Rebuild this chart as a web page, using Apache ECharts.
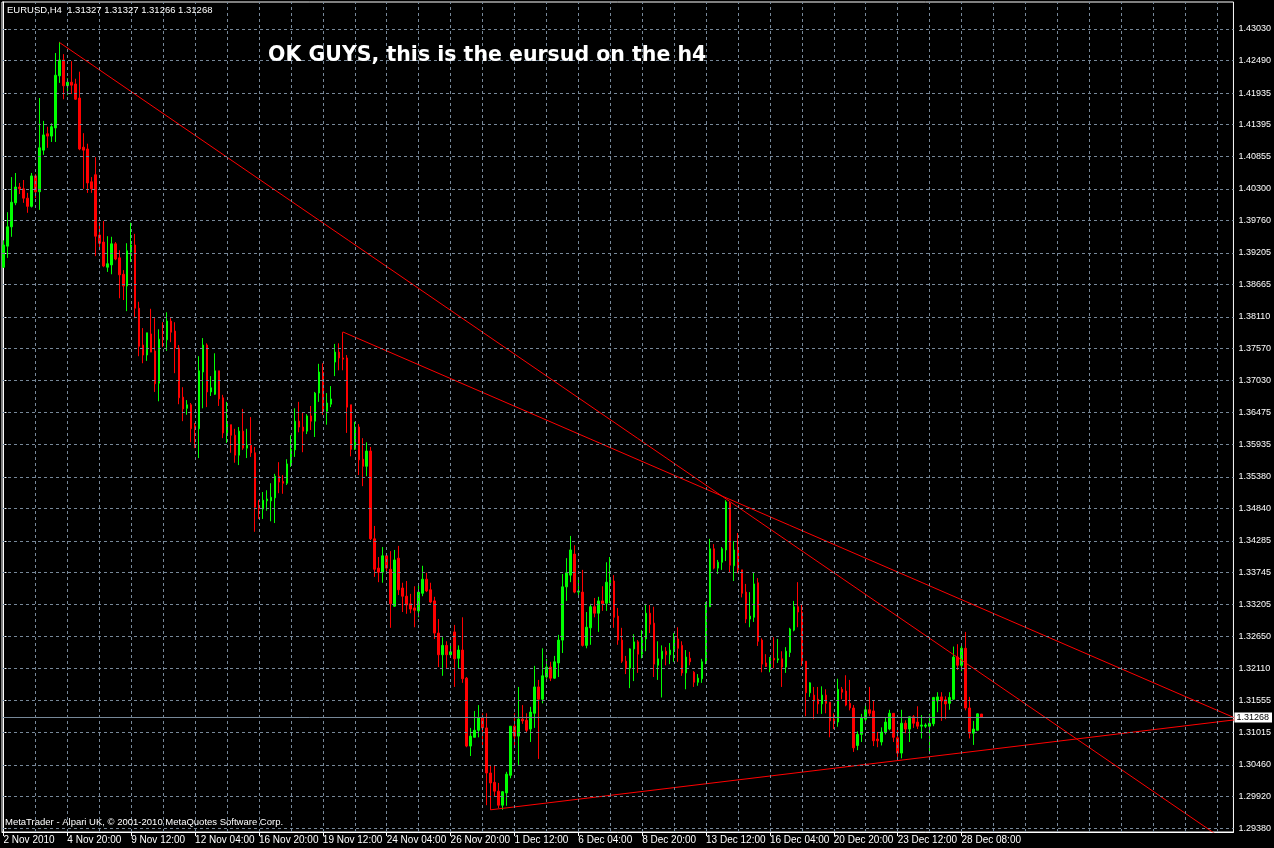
<!DOCTYPE html>
<html><head><meta charset="utf-8">
<script src="https://cdn.jsdelivr.net/npm/echarts@6/dist/echarts.min.js"></script>
<style>html,body{margin:0;padding:0;background:#000;}#c{width:1274px;height:848px;}</style>
</head><body><div id="c"></div>
<script>
// H4 EURUSD bars, 2 Nov 2010 04:00 .. 29 Dec 2010 04:00 (index = bar number)
const openP = [1.3896,1.3932,1.3965,1.4006,1.4033,1.4030,1.4014,1.4000,1.4052,1.4025,
1.4096,1.4124,1.4120,1.4134,1.4223,1.4250,1.4206,1.4212,1.4209,1.4185,
1.4101,1.4098,1.4042,1.4054,1.3951,1.3939,1.3896,1.3900,1.3936,1.3912,
1.3884,1.3864,1.3922,1.3934,1.3826,1.3763,1.3746,1.3782,1.3753,1.3698,
1.3775,1.3772,1.3804,1.3787,1.3758,1.3674,1.3655,1.3661,1.3625,1.3620,
1.3717,1.3763,1.3683,1.3679,1.3719,1.3673,1.3613,1.3627,1.3609,1.3575,
1.3616,1.3587,1.3592,1.3579,1.3488,1.3483,1.3497,1.3497,1.3502,1.3539,
1.3530,1.3527,1.3558,1.3584,1.3633,1.3623,1.3616,1.3642,1.3633,1.3681,
1.3717,1.3650,1.3662,1.3734,1.3751,1.3741,1.3741,1.3661,1.3585,1.3623,
1.3568,1.3556,1.3582,1.3432,1.3382,1.3375,1.3403,1.3380,1.3317,1.3399,
1.3348,1.3334,1.3321,1.3314,1.3309,1.3339,1.3363,1.3345,1.3326,1.3271,
1.3234,1.3250,1.3234,1.3273,1.3228,1.3242,1.3194,1.3078,1.3093,1.3105,
1.3126,1.3109,1.3032,1.3016,1.3001,1.2977,1.2998,1.3028,1.3112,1.3095,
1.3124,1.3122,1.3107,1.3134,1.3179,1.3158,1.3196,1.3213,1.3194,1.3220,
1.3259,1.3350,1.3370,1.3406,1.3341,1.3341,1.3250,1.3280,1.3316,1.3305,
1.3326,1.3322,1.3357,1.3360,1.3300,1.3259,1.3223,1.3211,1.3244,1.3256,
1.3235,1.3261,1.3305,1.3288,1.3216,1.3227,1.3240,1.3234,1.3240,1.3261,
1.3250,1.3203,1.3228,1.3204,1.3187,1.3193,1.3220,1.3316,1.3415,1.3382,
1.3392,1.3413,1.3493,1.3386,1.3415,1.3379,1.3341,1.3295,1.3298,1.3357,
1.3259,1.3220,1.3213,1.3228,1.3225,1.3227,1.3213,1.3238,1.3276,1.3316,
1.3307,1.3223,1.3169,1.3165,1.3158,1.3150,1.3165,1.3153,1.3124,1.3119,
1.3175,1.3172,1.3151,1.3143,1.3079,1.3098,1.3124,1.3140,1.3138,1.3090,
1.3085,1.3102,1.3107,1.3134,1.3092,1.3066,1.3117,1.3107,1.3128,1.3119,
1.3112,1.3112,1.3112,1.3116,1.3155,1.3162,1.3157,1.3151,1.3158,1.3230,
1.3216,1.3245,1.3143,1.3100,1.3105,1.31327];
const highP = [1.3942,1.3990,1.4050,1.4057,1.4040,1.4045,1.4023,1.4057,1.4055,1.4185,
1.4146,1.4136,1.4142,1.4262,1.4281,1.4260,1.4219,1.4248,1.4218,1.4230,
1.4125,1.4107,1.4050,1.4084,1.3973,1.3975,1.3949,1.3948,1.3939,1.3925,
1.3891,1.3937,1.3972,1.3953,1.3837,1.3792,1.3784,1.3825,1.3809,1.3790,
1.3802,1.3819,1.3809,1.3802,1.3763,1.3691,1.3669,1.3664,1.3630,1.3744,
1.3775,1.3766,1.3710,1.3749,1.3719,1.3678,1.3666,1.3627,1.3620,1.3623,
1.3654,1.3620,1.3640,1.3589,1.3498,1.3512,1.3515,1.3527,1.3543,1.3563,
1.3541,1.3568,1.3609,1.3655,1.3666,1.3647,1.3645,1.3659,1.3683,1.3731,
1.3732,1.3681,1.3693,1.3765,1.3766,1.3785,1.3746,1.3661,1.3632,1.3628,
1.3604,1.3597,1.3589,1.3454,1.3401,1.3418,1.3404,1.3411,1.3413,1.3420,
1.3357,1.3360,1.3338,1.3351,1.3355,1.3386,1.3374,1.3357,1.3333,1.3295,
1.3264,1.3257,1.3254,1.3285,1.3250,1.3298,1.3196,1.3109,1.3138,1.3148,
1.3134,1.3134,1.3046,1.3044,1.3015,1.3001,1.3034,1.3112,1.3134,1.3179,
1.3148,1.3134,1.3145,1.3215,1.3191,1.3245,1.3227,1.3222,1.3232,1.3268,
1.3372,1.3399,1.3437,1.3421,1.3365,1.3379,1.3307,1.3321,1.3331,1.3333,
1.3351,1.3392,1.3401,1.3370,1.3314,1.3280,1.3232,1.3245,1.3269,1.3259,
1.3276,1.3321,1.3319,1.3316,1.3257,1.3250,1.3247,1.3254,1.3271,1.3281,
1.3257,1.3242,1.3239,1.3206,1.3201,1.3227,1.3324,1.3432,1.3423,1.3396,
1.3418,1.3498,1.3495,1.3428,1.3442,1.3379,1.3355,1.3341,1.3375,1.3365,
1.3262,1.3235,1.3230,1.3264,1.3261,1.3240,1.3247,1.3280,1.3326,1.3358,
1.3319,1.3223,1.3187,1.3179,1.3179,1.3180,1.3175,1.3153,1.3134,1.3193,
1.3179,1.3199,1.3191,1.3148,1.3103,1.3133,1.3150,1.3179,1.3155,1.3102,
1.3110,1.3126,1.3140,1.3134,1.3105,1.3140,1.3122,1.3129,1.3131,1.3146,
1.3131,1.3117,1.3133,1.3162,1.3170,1.3170,1.3163,1.3170,1.3248,1.3252,
1.3252,1.3273,1.3162,1.3121,1.3134,1.31327];
const lowP = [1.3895,1.3912,1.3948,1.4002,1.4021,1.4006,1.3989,1.3998,1.4014,1.3994,
1.4088,1.4100,1.4110,1.4110,1.4211,1.4183,1.4190,1.4192,1.4182,1.4096,
1.4030,1.4023,1.4023,1.3915,1.3925,1.3896,1.3888,1.3884,1.3908,1.3843,
1.3840,1.3821,1.3905,1.3809,1.3744,1.3732,1.3736,1.3751,1.3683,1.3667,
1.3760,1.3753,1.3768,1.3715,1.3662,1.3633,1.3644,1.3597,1.3587,1.3570,
1.3655,1.3657,1.3676,1.3678,1.3659,1.3604,1.3596,1.3579,1.3562,1.3558,
1.3584,1.3570,1.3572,1.3444,1.3466,1.3466,1.3480,1.3462,1.3459,1.3510,
1.3509,1.3524,1.3555,1.3572,1.3614,1.3580,1.3611,1.3618,1.3606,1.3666,
1.3644,1.3627,1.3657,1.3710,1.3720,1.3720,1.3613,1.3573,1.3584,1.3541,
1.3522,1.3539,1.3430,1.3367,1.3358,1.3357,1.3375,1.3280,1.3316,1.3336,
1.3307,1.3304,1.3305,1.3281,1.3298,1.3334,1.3341,1.3322,1.3261,1.3213,
1.3198,1.3210,1.3232,1.3179,1.3210,1.3186,1.3076,1.3061,1.3093,1.3093,
1.3075,1.2977,1.2969,1.2991,1.2972,1.2969,1.2976,1.3023,1.3075,1.3044,
1.3116,1.3102,1.3085,1.3109,1.3056,1.3151,1.3193,1.3189,1.3193,1.3196,
1.3237,1.3326,1.3358,1.3339,1.3331,1.3248,1.3245,1.3251,1.3298,1.3273,
1.3309,1.3309,1.3322,1.3280,1.3251,1.3220,1.3201,1.3177,1.3189,1.3203,
1.3228,1.3240,1.3271,1.3196,1.3191,1.3161,1.3216,1.3218,1.3222,1.3222,
1.3198,1.3175,1.3216,1.3179,1.3181,1.3186,1.3218,1.3316,1.3380,1.3372,
1.3379,1.3394,1.3374,1.3360,1.3374,1.3332,1.3288,1.3281,1.3290,1.3249,
1.3204,1.3213,1.3204,1.3211,1.3220,1.3179,1.3203,1.3230,1.3274,1.3281,
1.3215,1.3129,1.3162,1.3124,1.3133,1.3133,1.3134,1.3093,1.3107,1.3111,
1.3158,1.3146,1.3139,1.3068,1.3071,1.3085,1.3117,1.3129,1.3078,1.3076,
1.3079,1.3098,1.3105,1.3085,1.3056,1.3057,1.3100,1.3085,1.3109,1.3107,
1.3091,1.3109,1.3069,1.3112,1.3136,1.3121,1.3124,1.3140,1.3157,1.3208,
1.3206,1.3139,1.3091,1.3080,1.3105,1.31266];
const closeP = [1.3934,1.3965,1.4007,1.4033,1.4030,1.4014,1.4000,1.4052,1.4025,1.4100,
1.4122,1.4120,1.4136,1.4224,1.4250,1.4206,1.4212,1.4207,1.4183,1.4098,
1.4096,1.4040,1.4030,1.3949,1.3937,1.3898,1.3902,1.3936,1.3910,1.3883,
1.3864,1.3924,1.3934,1.3826,1.3761,1.3746,1.3784,1.3751,1.3697,1.3773,
1.3772,1.3804,1.3785,1.3758,1.3673,1.3654,1.3661,1.3620,1.3620,1.3719,
1.3763,1.3683,1.3690,1.3719,1.3671,1.3613,1.3628,1.3609,1.3575,1.3616,
1.3587,1.3592,1.3579,1.3486,1.3483,1.3498,1.3500,1.3503,1.3539,1.3529,
1.3527,1.3560,1.3585,1.3633,1.3623,1.3616,1.3642,1.3633,1.3681,1.3717,
1.3652,1.3664,1.3671,1.3751,1.3741,1.3739,1.3657,1.3585,1.3623,1.3567,
1.3556,1.3582,1.3432,1.3380,1.3375,1.3403,1.3382,1.3321,1.3396,1.3345,
1.3334,1.3319,1.3312,1.3310,1.3341,1.3363,1.3343,1.3324,1.3271,1.3234,
1.3250,1.3234,1.3239,1.3227,1.3242,1.3193,1.3078,1.3095,1.3105,1.3126,
1.3109,1.3032,1.3015,1.3001,1.2977,1.3000,1.3030,1.3112,1.3095,1.3124,
1.3121,1.3105,1.3136,1.3179,1.3158,1.3198,1.3213,1.3194,1.3222,1.3259,
1.3350,1.3374,1.3413,1.3341,1.3343,1.3250,1.3281,1.3316,1.3305,1.3326,
1.3321,1.3358,1.3362,1.3298,1.3259,1.3223,1.3211,1.3244,1.3256,1.3235,
1.3263,1.3305,1.3286,1.3218,1.3227,1.3240,1.3234,1.3242,1.3261,1.3245,
1.3203,1.3230,1.3222,1.3187,1.3194,1.3222,1.3319,1.3415,1.3382,1.3392,
1.3415,1.3495,1.3387,1.3413,1.3379,1.3339,1.3295,1.3300,1.3355,1.3257,
1.3218,1.3214,1.3228,1.3225,1.3227,1.3213,1.3240,1.3278,1.3316,1.3307,
1.3222,1.3169,1.3186,1.3155,1.3150,1.3165,1.3151,1.3121,1.3119,1.3175,
1.3170,1.3148,1.3143,1.3075,1.3098,1.3126,1.3140,1.3134,1.3087,1.3087,
1.3102,1.3119,1.3134,1.3093,1.3066,1.3117,1.3107,1.3128,1.3117,1.3112,
1.3114,1.3114,1.3117,1.3161,1.3162,1.3155,1.3150,1.3161,1.3230,1.3216,
1.3245,1.3143,1.3100,1.3107,1.3133,1.31268];

// time axis labels, one every 16 bars starting at bar 0
const xTickLabels = ['2 Nov 2010','4 Nov 20:00','9 Nov 12:00','12 Nov 04:00','16 Nov 20:00','19 Nov 12:00',
'24 Nov 04:00','26 Nov 20:00','1 Dec 12:00','6 Dec 04:00','8 Dec 20:00','13 Dec 12:00','16 Dec 04:00',
'20 Dec 20:00','23 Dec 12:00','28 Dec 08:00'];
const xTickStep = 16;
const xGridStep = 8;
const yTickLabels = ['1.43030','1.42490','1.41935','1.41395','1.40855','1.40300','1.39760','1.39205','1.38665',
'1.38110','1.37570','1.37030','1.36475','1.35935','1.35380','1.34840','1.34285','1.33745','1.33205','1.32650',
'1.32110','1.31555','1.31015','1.30460','1.29920','1.29380'];

// hand drawn trend lines: [barIndex, price] anchor pairs
const trendLine1 = [[14, 1.4280], [310, 1.2898]];
const trendLine2 = [[85, 1.37855], [310, 1.31215]];
const trendLine3 = [[122, 1.29691], [310, 1.31241]];

const symbolName = 'EURUSD,H4';
const caption = 'OK GUYS, this is the eursud on the h4';
const copyright = 'MetaTrader - Alpari UK, \u00a9 2001-2010 MetaQuotes Software Corp.';

const last = openP.length - 1;
const bid = closeP[last];
const candles = openP.map((o, i) => [i, o, closeP[i], lowP[i], highP[i]]);
const xMin = -0.375, xMax = 308.125;
const yMin = 1.29312, yMax = 1.43491;

const xLabelVals = xTickLabels.map((_, k) => k * xTickStep);
const vGrid = [];
for (let v = xGridStep; v < xMax; v += xGridStep) vGrid.push({xAxis: v});
const yVals = yTickLabels.map(Number);
const hGrid = yVals.map(v => ({yAxis: v}));

const FONT = "'Liberation Sans', Arial, sans-serif";
const gridColor = '#778899';

const chart = echarts.init(document.getElementById('c'), null, {renderer: 'canvas'});
chart.setOption({
  backgroundColor: '#000',
  animation: false,
  title: [
    {text: symbolName + '  ' + [openP[last], highP[last], lowP[last], closeP[last]].map(v => v.toFixed(5)).join(' '),
     left: 7, top: 5, padding: 0, textStyle: {color: '#fff', fontSize: 9.5, fontWeight: 'normal', fontFamily: FONT}},
    {text: caption, left: 268, top: 45, padding: 0,
     textStyle: {color: '#fff', fontSize: 20.5, fontWeight: 'bold', fontFamily: "'DejaVu Sans', Verdana, sans-serif"}},
    {text: copyright, left: 5, top: 817, padding: 0,
     textStyle: {color: '#fff', fontSize: 9.5, fontWeight: 'normal', fontFamily: FONT}}
  ],
  grid: {left: 2, right: 38, top: 2, bottom: 16, show: true, borderColor: '#fff', borderWidth: 1, backgroundColor: '#000'},
  xAxis: [{
    type: 'value', min: xMin, max: xMax, position: 'bottom',
    axisLine: {show: true, lineStyle: {color: '#fff'}},
    axisTick: {show: true, customValues: xLabelVals, length: 4, lineStyle: {color: '#fff'}},
    axisLabel: {customValues: xLabelVals, color: '#fff', fontSize: 10, fontFamily: FONT, align: 'left', margin: 3,
      formatter: v => xTickLabels[Math.round(v / xTickStep)] || ''},
    splitLine: {show: false}
  }],
  yAxis: [{
    type: 'value', min: yMin, max: yMax, position: 'right',
    axisLine: {show: true, lineStyle: {color: '#fff'}},
    axisTick: {show: true, customValues: yVals, length: 3, lineStyle: {color: '#fff'}},
    axisLabel: {customValues: yVals, color: '#fff', fontSize: 9, fontFamily: FONT, margin: 5,
      formatter: v => yTickLabels[yVals.indexOf(v)] || v.toFixed(5)},
    splitLine: {show: false}
  }],
  series: [
    {type: 'line', data: [], z: 1, silent: true,
     markLine: {silent: true, symbol: 'none', animation: false, precision: 6, label: {show: false},
       lineStyle: {color: gridColor, type: [3, 3], width: 1}, emphasis: {disabled: true},
       data: vGrid.concat(hGrid)}},
    {type: 'line', data: [], z: 2, silent: true,
     markLine: {silent: true, symbol: 'none', animation: false, precision: 6, emphasis: {disabled: true},
       lineStyle: {color: gridColor, type: 'solid', width: 1},
       label: {show: true, position: 'end', distance: 1, formatter: () => bid.toFixed(5), color: '#000',
         backgroundColor: '#fff', padding: [1, 3, 0, 2], fontSize: 9, fontFamily: FONT},
       data: [{yAxis: bid}]}},
    {type: 'candlestick', z: 3, data: candles, encode: {x: 0, y: [1, 2, 3, 4]}, barWidth: 2, silent: true,
     itemStyle: {color: '#00ff00', color0: '#ff0000', borderColor: '#00ff00', borderColor0: '#ff0000', borderWidth: 1}},
    {type: 'line', z: 4, data: trendLine1, symbol: 'none', silent: true, clip: true, lineStyle: {color: '#ff0000', width: 1}},
    {type: 'line', z: 4, data: trendLine2, symbol: 'none', silent: true, clip: true, lineStyle: {color: '#ff0000', width: 1}},
    {type: 'line', z: 4, data: trendLine3, symbol: 'none', silent: true, clip: true, lineStyle: {color: '#ff0000', width: 1}}
  ]
});
</script>
</body></html>
